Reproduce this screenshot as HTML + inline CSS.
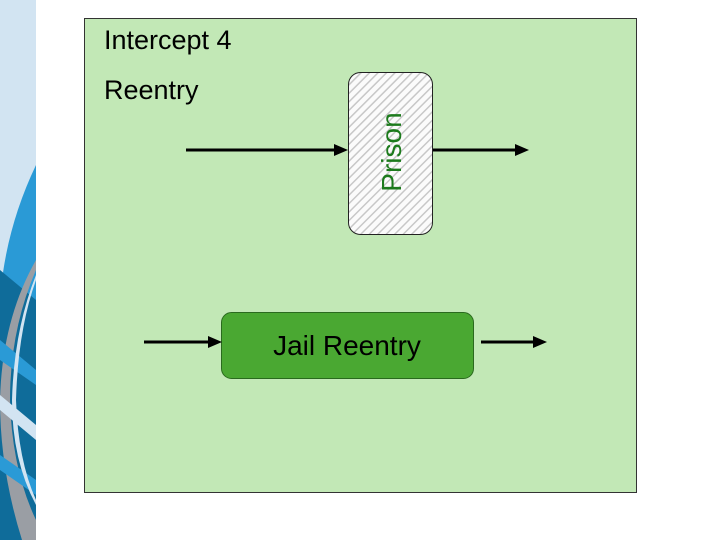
<!DOCTYPE html>
<html><head><style>
body{margin:0;width:720px;height:540px;background:#fff;overflow:hidden;position:relative;font-family:"Liberation Sans",sans-serif}
</style></head><body>
<svg width="720" height="540" style="position:absolute;left:0;top:0">
<defs>
<pattern id="h" width="6" height="6" patternUnits="userSpaceOnUse" patternTransform="rotate(45)">
<rect width="6" height="6" fill="#fbfbfb"/><rect width="1.5" height="6" fill="#c8c8c8"/>
</pattern>
<clipPath id="c"><rect x="0" y="0" width="36" height="540"/></clipPath>
</defs>
<rect x="0" y="0" width="36" height="540" fill="#d2e4f2"/>
<g clip-path="url(#c)">
<path d="M36 165 Q5 230 0 300 L0 540 L36 540 Z" fill="#2a9ad6"/>
<path d="M0 270 L36 300 L36 540 L0 540 Z" fill="#0f6c9a"/>
<path d="M36 270 Q10 330 10 400 Q12 470 36 520 L36 540 L22 540 Q0 470 0 400 Q2 320 36 260Z" fill="#9a9ea4"/>
<path d="M0 340 L36 370 L36 385 L0 360Z" fill="#2a9ad6"/>
<path d="M0 395 L36 425 L36 440 L0 410Z" fill="#d2e4f2"/>
<path d="M0 455 L36 480 L36 495 L0 470Z" fill="#2a9ad6"/>
<path d="M36 280 Q18 330 16 400 Q18 460 36 500 L36 505 Q12 460 12 400 Q14 330 36 275Z" fill="#d2e4f2"/>
</g>
<rect x="84.5" y="18.5" width="552" height="474" fill="#c2e8b6" stroke="#333" stroke-width="1"/>
<rect x="348.5" y="72.5" width="84" height="162" rx="12" fill="url(#h)" stroke="#222" stroke-width="1"/>
<rect x="221.5" y="312.5" width="252" height="66" rx="10" fill="#4aa832" stroke="#2a6a1e" stroke-width="1"/>
<g stroke="#000" stroke-width="3">
<line x1="186" y1="150" x2="336" y2="150"/>
<line x1="433" y1="150" x2="516" y2="150"/>
<line x1="144" y1="342" x2="210" y2="342"/>
<line x1="481" y1="342" x2="534" y2="342"/>
</g>
<g fill="#000">
<polygon points="348,150 334,144 334,156"/>
<polygon points="529,150 515,144 515,156"/>
<polygon points="222,342 208,336 208,348"/>
<polygon points="547,342 533,336 533,348"/>
</g>
<text x="104" y="49" font-size="27" fill="#000" font-family="Liberation Sans, sans-serif">Intercept 4</text>
<text x="104" y="99" font-size="27" fill="#000" font-family="Liberation Sans, sans-serif">Reentry</text>
<text transform="translate(401,152) rotate(-90)" text-anchor="middle" font-size="28" fill="#1c7a1c" font-family="Liberation Sans, sans-serif">Prison</text>
<text x="347" y="355" text-anchor="middle" font-size="28" fill="#000" font-family="Liberation Sans, sans-serif">Jail Reentry</text>
</svg>
</body></html>
